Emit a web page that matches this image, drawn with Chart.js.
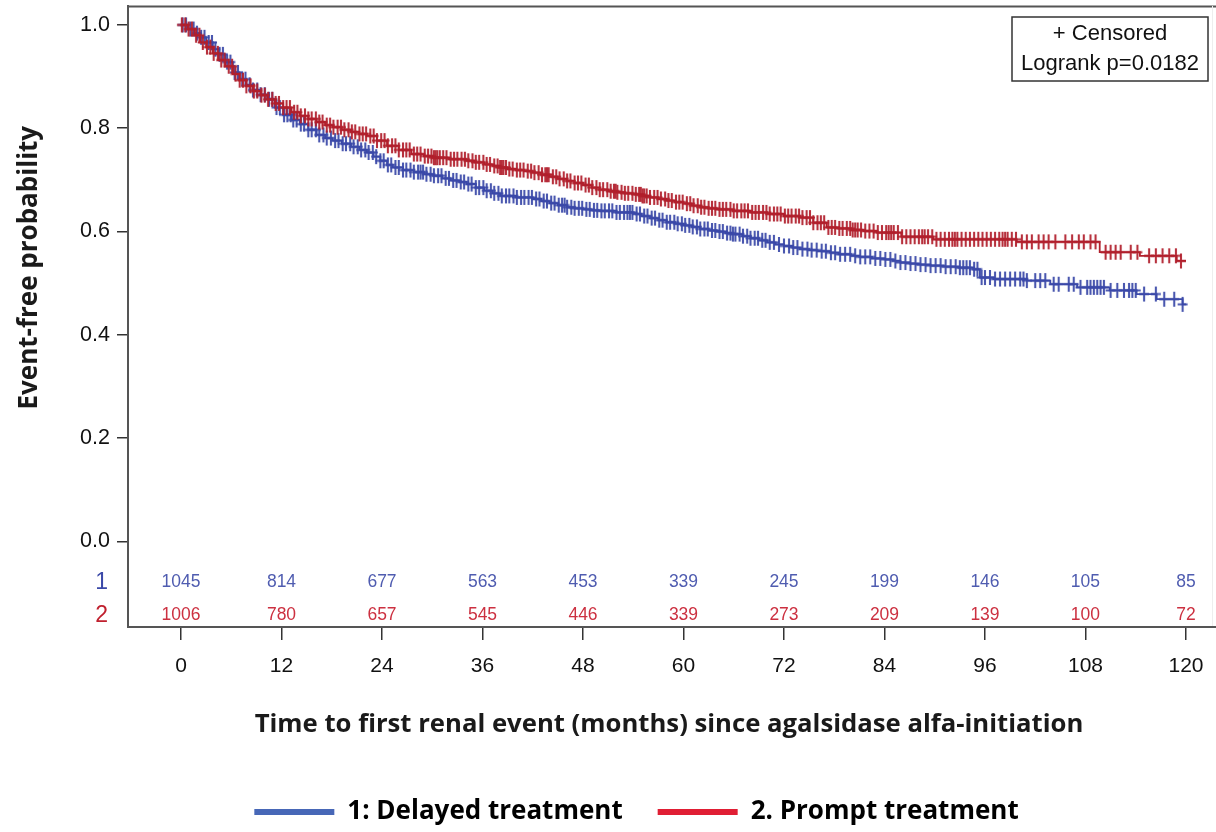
<!DOCTYPE html>
<html>
<head>
<meta charset="utf-8">
<script src="https://cdn.jsdelivr.net/npm/chart.js@4.4.1/dist/chart.umd.min.js"></script>
<style>
  html, body { margin: 0; padding: 0; background: #ffffff; }
  #c { display: block; }
</style>
</head>
<body>
<canvas id="c" width="1216" height="832"></canvas>
<script>
// ---------------- DATA ----------------
const seriesNames = ['1: Delayed treatment', '2. Prompt treatment'];
const groupLabels = ['1', '2'];
const xTickValues = [0, 12, 24, 36, 48, 60, 72, 84, 96, 108, 120];
const yTickValues = [0.0, 0.2, 0.4, 0.6, 0.8, 1.0];

// Kaplan-Meier curve, group 1 (Delayed treatment): event times (months) and survival
const delayedTimes = [0, 0.8, 1.6, 2.3, 3.0, 3.8, 4.5, 5.3, 6.2, 7.0, 7.8, 8.6, 9.5, 10.3, 11.2, 12.2, 13.2, 14.2, 15.2, 16.2, 17.2, 18.1, 19.2, 20.3, 21.3, 22.2, 23.0, 23.8, 24.6, 25.3, 26.5, 27.8, 29.0, 30.1, 31.2, 32.2, 33.2, 34.1, 35.2, 36.2, 37.2, 38.1, 40.0, 42.0, 43.0, 44.0, 45.0, 46.1, 47.0, 48.0, 49.0, 50.0, 52.0, 54.0, 55.0, 56.0, 57.0, 58.0, 59.0, 60.0, 61.0, 62.0, 63.0, 64.0, 65.0, 65.9, 67.0, 68.0, 69.0, 70.0, 71.0, 72.0, 73.0, 73.9, 75.0, 76.0, 77.5, 78.5, 80.0, 81.0, 82.5, 84.0, 85.0, 85.9, 87.0, 88.0, 89.5, 91.0, 92.8, 94.6, 95.4, 97.0, 101.0, 103.8, 107.0, 110.9, 114.1, 116.5, 119.6];
const delayedSurv  = [1.000, 0.992, 0.984, 0.976, 0.966, 0.953, 0.943, 0.928, 0.908, 0.895, 0.884, 0.874, 0.865, 0.856, 0.840, 0.826, 0.816, 0.808, 0.797, 0.787, 0.781, 0.776, 0.770, 0.764, 0.758, 0.753, 0.745, 0.737, 0.729, 0.724, 0.719, 0.715, 0.711, 0.708, 0.703, 0.699, 0.696, 0.692, 0.685, 0.679, 0.674, 0.669, 0.666, 0.663, 0.659, 0.655, 0.651, 0.647, 0.645, 0.643, 0.641, 0.640, 0.637, 0.634, 0.630, 0.626, 0.622, 0.618, 0.615, 0.612, 0.609, 0.605, 0.602, 0.600, 0.597, 0.595, 0.591, 0.587, 0.583, 0.579, 0.575, 0.572, 0.569, 0.566, 0.564, 0.562, 0.559, 0.556, 0.553, 0.551, 0.548, 0.546, 0.543, 0.540, 0.538, 0.536, 0.534, 0.532, 0.530, 0.527, 0.511, 0.508, 0.505, 0.498, 0.492, 0.486, 0.479, 0.469, 0.459];
const delayedEnd = 120;

// Kaplan-Meier curve, group 2 (Prompt treatment)
const promptTimes = [0, 0.8, 1.6, 2.3, 3.0, 3.8, 4.5, 5.3, 6.2, 7.0, 7.8, 8.6, 9.5, 10.3, 11.2, 12.2, 13.2, 14.2, 15.2, 16.2, 17.2, 18.1, 19.2, 20.3, 21.3, 22.2, 23.4, 24.6, 26.0, 27.5, 29.0, 30.1, 32.0, 34.1, 35.0, 36.2, 37.2, 38.1, 39.0, 40.0, 41.0, 42.0, 43.0, 44.0, 45.0, 46.1, 47.0, 48.0, 49.0, 50.0, 51.0, 52.0, 53.0, 54.0, 55.0, 56.0, 57.0, 58.0, 59.0, 60.0, 61.0, 62.0, 63.0, 64.0, 65.9, 68.0, 70.0, 72.0, 73.9, 75.5, 77.1, 78.5, 80.0, 81.5, 83.1, 86.0, 89.8, 99.8, 109.7, 114.5, 118.9];
const promptSurv  = [1.000, 0.992, 0.980, 0.966, 0.957, 0.945, 0.932, 0.920, 0.905, 0.893, 0.882, 0.872, 0.864, 0.856, 0.848, 0.840, 0.831, 0.824, 0.818, 0.812, 0.806, 0.802, 0.797, 0.793, 0.789, 0.785, 0.776, 0.766, 0.758, 0.750, 0.746, 0.743, 0.740, 0.737, 0.734, 0.730, 0.727, 0.724, 0.721, 0.719, 0.717, 0.714, 0.710, 0.706, 0.702, 0.698, 0.694, 0.690, 0.685, 0.681, 0.678, 0.676, 0.674, 0.672, 0.669, 0.666, 0.663, 0.660, 0.657, 0.654, 0.650, 0.647, 0.645, 0.643, 0.640, 0.637, 0.634, 0.630, 0.627, 0.617, 0.608, 0.606, 0.603, 0.601, 0.598, 0.590, 0.585, 0.580, 0.560, 0.553, 0.543];
const promptEnd = 120;

// Censoring times (months)
const delayedCensored = [0.2, 0.6, 1.1, 1.5, 1.9, 2.4, 2.8, 3.3, 3.7, 4.1, 4.6, 5.0, 5.5, 5.9, 6.4, 6.8, 7.3, 7.7, 8.2, 8.6, 9.1, 9.5, 10.0, 10.5, 10.9, 11.4, 11.8, 12.3, 12.7, 13.1, 13.4, 13.8, 14.3, 14.7, 15.2, 15.6, 16.1, 16.5, 17.0, 17.4, 17.9, 18.4, 18.8, 19.3, 19.7, 20.2, 20.6, 21.1, 21.5, 22.0, 22.4, 22.9, 23.3, 23.8, 24.2, 24.7, 25.1, 25.6, 26.0, 26.5, 26.9, 27.4, 27.8, 28.3, 28.6, 28.9, 29.3, 29.8, 30.2, 30.7, 31.1, 31.6, 32.0, 32.5, 32.9, 33.4, 33.8, 34.3, 34.7, 35.2, 35.6, 36.1, 36.5, 37.0, 37.4, 37.9, 38.3, 38.8, 39.2, 39.7, 40.1, 40.6, 41.0, 41.5, 41.9, 42.4, 42.8, 43.3, 43.7, 44.2, 44.6, 45.1, 45.5, 45.8, 46.1, 46.6, 47.0, 47.5, 47.9, 48.4, 48.8, 49.3, 49.7, 50.2, 50.6, 51.1, 51.5, 52.0, 52.4, 52.9, 53.3, 53.6, 53.9, 54.4, 54.8, 55.3, 55.7, 56.2, 56.6, 57.1, 57.5, 58.0, 58.4, 58.9, 59.3, 59.8, 60.2, 60.7, 61.1, 61.6, 62.0, 62.5, 62.9, 63.4, 63.8, 64.3, 64.7, 65.2, 65.6, 65.9, 66.2, 66.7, 67.1, 67.6, 68.0, 68.5, 68.9, 69.4, 69.8, 70.3, 70.8, 71.4, 72.0, 72.6, 73.1, 73.6, 74.2, 74.8, 75.3, 75.9, 76.5, 77.0, 77.6, 78.1, 78.7, 79.3, 79.9, 80.5, 81.1, 81.7, 82.3, 82.9, 83.5, 84.1, 84.7, 85.3, 85.9, 86.5, 87.1, 87.7, 88.3, 88.9, 89.5, 90.1, 90.7, 91.3, 91.9, 92.5, 93.0, 93.4, 93.8, 94.2, 94.7, 95.1, 95.6, 96.0, 96.6, 97.2, 97.8, 98.4, 99.0, 99.6, 100.2, 100.6, 101.0, 102.0, 102.6, 103.2, 104.2, 104.8, 106.0, 106.6, 107.4, 108.2, 108.6, 109.0, 109.4, 109.8, 110.2, 111.0, 111.8, 112.6, 113.2, 113.6, 114.0, 115.0, 116.4, 117.4, 118.6, 119.6];
const promptCensored = [0.1, 0.5, 0.9, 1.3, 1.8, 2.2, 2.6, 3.1, 3.5, 3.9, 4.4, 4.8, 5.2, 5.7, 6.1, 6.5, 7.0, 7.4, 7.8, 8.3, 8.7, 9.1, 9.6, 10.0, 10.4, 10.9, 11.3, 11.7, 12.2, 12.6, 13.0, 13.5, 13.9, 14.3, 14.8, 15.2, 15.6, 16.1, 16.5, 16.9, 17.4, 17.8, 18.2, 18.7, 19.1, 19.5, 20.0, 20.4, 20.8, 21.3, 21.7, 22.1, 22.6, 23.0, 23.4, 23.9, 24.3, 24.7, 25.2, 25.6, 26.0, 26.5, 26.9, 27.3, 27.8, 28.2, 28.6, 29.1, 29.5, 29.9, 30.2, 30.4, 30.6, 30.9, 31.3, 31.7, 32.2, 32.6, 33.0, 33.5, 33.9, 34.3, 34.8, 35.2, 35.6, 36.1, 36.5, 36.9, 37.4, 37.8, 38.1, 38.3, 38.5, 38.8, 39.2, 39.6, 40.1, 40.5, 40.9, 41.4, 41.8, 42.2, 42.7, 43.1, 43.5, 43.7, 43.9, 44.4, 44.8, 45.2, 45.7, 46.1, 46.5, 47.0, 47.4, 47.8, 48.3, 48.7, 49.1, 49.6, 50.0, 50.4, 50.9, 51.3, 51.7, 51.9, 52.1, 52.6, 53.0, 53.4, 53.9, 54.3, 54.7, 54.9, 55.1, 55.3, 55.6, 56.0, 56.5, 56.9, 57.3, 57.8, 58.2, 58.6, 59.1, 59.5, 59.9, 60.4, 60.8, 61.2, 61.7, 62.1, 62.5, 63.0, 63.4, 63.8, 64.3, 64.7, 65.1, 65.6, 66.0, 66.4, 66.9, 67.3, 67.7, 68.2, 68.6, 69.0, 69.5, 69.9, 70.3, 70.8, 71.2, 71.6, 72.1, 72.5, 72.9, 73.4, 73.8, 74.2, 74.7, 75.1, 75.5, 76.0, 76.4, 76.8, 77.3, 77.7, 78.1, 78.6, 79.0, 79.5, 79.9, 80.2, 80.5, 80.8, 81.2, 81.7, 82.2, 82.7, 83.2, 83.7, 84.2, 84.5, 84.8, 85.1, 85.6, 86.1, 86.6, 87.1, 87.6, 88.1, 88.5, 88.8, 89.2, 89.7, 90.2, 90.7, 91.2, 91.7, 92.1, 92.4, 92.7, 93.2, 93.7, 94.2, 94.7, 95.2, 95.7, 96.2, 96.7, 97.2, 97.7, 98.1, 98.4, 98.7, 99.2, 99.7, 100.4, 101.0, 101.6, 102.4, 103.0, 103.6, 104.4, 105.6, 106.4, 107.2, 107.8, 108.6, 109.2, 110.4, 111.0, 111.6, 112.2, 113.4, 114.2, 115.6, 116.4, 117.2, 118.0, 118.8, 119.4];

// Numbers at risk at each x tick
const atRiskDelayed = [1045, 814, 677, 563, 453, 339, 245, 199, 146, 105, 85];
const atRiskPrompt  = [1006, 780, 657, 545, 446, 339, 273, 209, 139, 100, 72];

const insetLines = ['+ Censored', 'Logrank p=0.0182'];
const xTitle = 'Time to first renal event (months) since agalsidase alfa-initiation';
const yTitle = 'Event-free probability';

// ---------------- STYLE ----------------
const blueLine = '#3b49a8';
const redLine = '#b11f2c';
const blueText = '#4f5cb0';
const redText = '#cc3040';
const legendBlue = '#4767b7';
const legendRed = '#e01e34';
const tickFont = '"Liberation Sans", Arial, sans-serif';
const titleFont = '"Open Sans", Lato, sans-serif';

// ---------------- HELPERS ----------------
function kmPoints(times, surv, end) {
  const pts = times.map((t, i) => ({ x: t, y: surv[i] }));
  pts.push({ x: end, y: surv[surv.length - 1] });
  return pts;
}
function survAt(times, surv, t) {
  let v = surv[0];
  for (let i = 0; i < times.length; i++) { if (times[i] <= t) v = surv[i]; else break; }
  return v;
}
function censorPoints(cens, times, surv) {
  return cens.map(t => ({ x: t, y: survAt(times, surv, t) }));
}
function plusMark(color) {
  const c = document.createElement('canvas');
  c.width = 12; c.height = 17;
  const g = c.getContext('2d');
  g.strokeStyle = color; g.lineWidth = 2.1; g.globalAlpha = 0.92;
  g.beginPath();
  g.moveTo(6, 1); g.lineTo(6, 16);
  g.moveTo(1, 8.5); g.lineTo(11, 8.5);
  g.stroke();
  return c;
}

// ---------------- PLUGINS ----------------
const decorations = {
  id: 'decorations',
  afterLayout(chart) {
    // move the legend so it sits where the reference shows it
    const lg = chart.legend;
    lg.left += 57;
    lg.top += 3; lg.bottom += 3;
  },
  afterDatasetsDraw(chart) {
    const { ctx, chartArea: a, scales: { x, y } } = chart;
    const W = chart.width;
    ctx.save();
    // top frame line, bottom axis continuation and faint right edge
    ctx.strokeStyle = '#555555'; ctx.lineWidth = 2;
    ctx.beginPath(); ctx.moveTo(a.left, a.top + 0.5); ctx.lineTo(W, a.top + 0.5); ctx.stroke();
    ctx.beginPath(); ctx.moveTo(a.right - 1, a.bottom); ctx.lineTo(W, a.bottom); ctx.stroke();
    ctx.strokeStyle = '#eeeeee'; ctx.lineWidth = 1;
    ctx.beginPath(); ctx.moveTo(W - 3.5, a.top); ctx.lineTo(W - 3.5, a.bottom - 1); ctx.stroke();

    // numbers at risk
    const y0 = y.getPixelForValue(0);
    const row1 = y0 + 41, row2 = y0 + 74;
    ctx.font = '17.5px ' + tickFont; ctx.textAlign = 'center'; ctx.textBaseline = 'middle';
    xTickValues.forEach((t, i) => {
      const px = x.getPixelForValue(t);
      ctx.fillStyle = blueText; ctx.fillText(String(atRiskDelayed[i]), px, row1);
      ctx.fillStyle = redText; ctx.fillText(String(atRiskPrompt[i]), px, row2);
    });
    // group labels left of the axis
    ctx.font = '23px ' + tickFont; ctx.textAlign = 'right';
    ctx.fillStyle = blueLine; ctx.fillText(groupLabels[0], a.left - 20, row1);
    ctx.fillStyle = '#c0202e'; ctx.fillText(groupLabels[1], a.left - 20, row2);

    // inset box
    const bw = 196, bh = 64, bx = W - 8 - bw, by = a.top + 11;
    ctx.fillStyle = '#ffffff'; ctx.fillRect(bx, by, bw, bh);
    ctx.strokeStyle = '#333333'; ctx.lineWidth = 1.5; ctx.strokeRect(bx, by, bw, bh);
    ctx.fillStyle = '#111111'; ctx.font = '22px ' + tickFont; ctx.textAlign = 'center';
    ctx.fillText(insetLines[0], bx + bw / 2, by + 17);
    ctx.fillText(insetLines[1], bx + bw / 2, by + 47);

    // y axis title
    ctx.translate(30, y.getPixelForValue(0.53));
    ctx.rotate(-Math.PI / 2);
    ctx.font = 'bold 26px ' + titleFont; ctx.fillStyle = '#1a1a1a';
    ctx.textAlign = 'center'; ctx.textBaseline = 'middle';
    ctx.fillText(yTitle, 0, 0);
    ctx.restore();
  }
};

// ---------------- CHART ----------------
const ctx = document.getElementById('c').getContext('2d');
new Chart(ctx, {
  type: 'line',
  data: {
    datasets: [
      { label: seriesNames[1] + ' censored', data: censorPoints(promptCensored, promptTimes, promptSurv),
        showLine: false, pointStyle: plusMark(redLine), pointRadius: 5, order: 0 },
      { label: seriesNames[1], data: kmPoints(promptTimes, promptSurv, promptEnd),
        borderColor: redLine, backgroundColor: redLine, borderWidth: 1.8, stepped: true, pointRadius: 0, order: 1 },
      { label: seriesNames[0] + ' censored', data: censorPoints(delayedCensored, delayedTimes, delayedSurv),
        showLine: false, pointStyle: plusMark(blueLine), pointRadius: 5, order: 2 },
      { label: seriesNames[0], data: kmPoints(delayedTimes, delayedSurv, delayedEnd),
        borderColor: blueLine, backgroundColor: blueLine, borderWidth: 1.8, stepped: true, pointRadius: 0, order: 3 }
    ]
  },
  options: {
    responsive: false,
    animation: false,
    events: [],
    layout: { padding: { top: 6, right: 0, bottom: 0, left: 0 } },
    scales: {
      x: {
        type: 'linear',
        min: -6.33, max: 122.87,
        afterBuildTicks: s => { s.ticks = xTickValues.map(v => ({ value: v })); },
        afterFit: s => {
          s.height = s.chart.height - 627 - (s.chart.legend ? s.chart.legend.height : 0);
          s.paddingLeft = 0; s.paddingRight = 0;
        },
        grid: { drawOnChartArea: false, drawTicks: true, tickLength: 13, color: '#333333', lineWidth: 1.5 },
        border: { display: true, color: '#555555', width: 2 },
        ticks: { font: { family: tickFont, size: 21 }, color: '#111111', padding: 14, autoSkip: false, maxRotation: 0,
                 callback: v => String(v) },
        title: { display: true, text: xTitle, color: '#1a1a1a', font: { family: titleFont, size: 25.7, weight: 'bold' },
                 padding: { top: 0, bottom: 21 } }
      },
      y: {
        type: 'linear',
        min: -0.1656, max: 1.0366,
        afterBuildTicks: s => { s.ticks = yTickValues.map(v => ({ value: v })); },
        afterFit: s => { s.width = 128; s.paddingTop = 0; s.paddingBottom = 0; },
        grid: { drawOnChartArea: false, drawTicks: true, tickLength: 11, color: '#333333', lineWidth: 1.5 },
        border: { display: true, color: '#555555', width: 2 },
        ticks: { font: { family: tickFont, size: 21.5 }, color: '#111111', padding: 7, callback: v => Number(v).toFixed(1) }
      }
    },
    plugins: {
      tooltip: { enabled: false },
      legend: {
        display: true,
        position: 'bottom',
        labels: {
          boxWidth: 80, boxHeight: 6, padding: 35, color: '#1a1a1a',
          font: { family: titleFont, size: 26, weight: 'bold' },
          generateLabels: () => [
            { text: seriesNames[0], fillStyle: legendBlue, strokeStyle: legendBlue, lineWidth: 0, datasetIndex: 3, hidden: false },
            { text: seriesNames[1], fillStyle: legendRed, strokeStyle: legendRed, lineWidth: 0, datasetIndex: 1, hidden: false }
          ]
        }
      }
    }
  },
  plugins: [decorations]
});
</script>
</body>
</html>
